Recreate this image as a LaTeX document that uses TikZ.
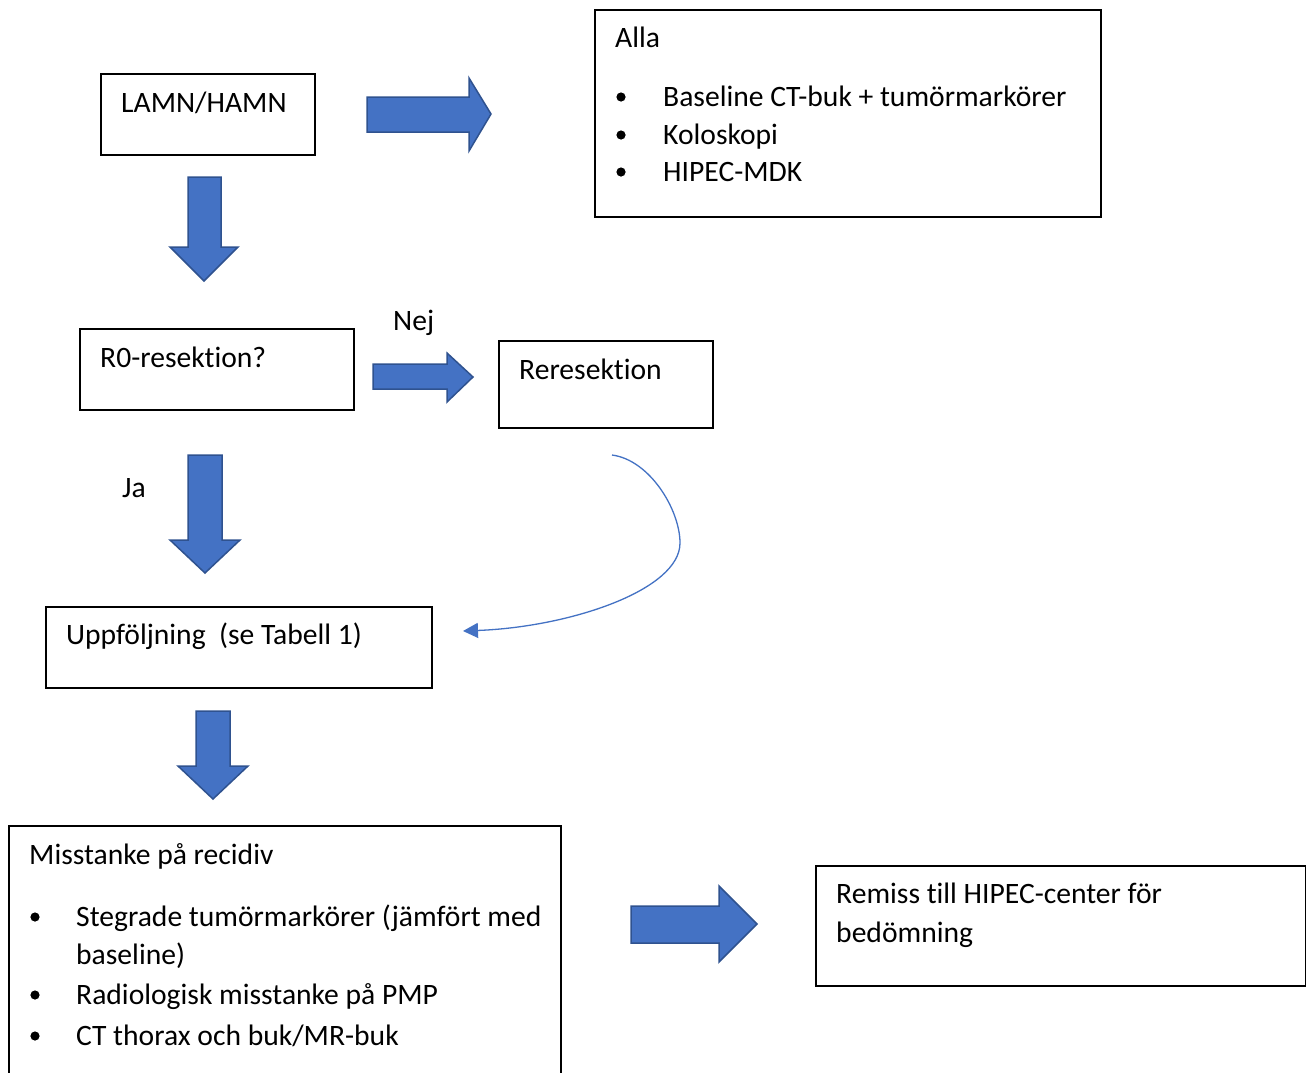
\documentclass[tikz,border=0pt]{standalone}
\usepackage{fontspec}
\setmainfont[Ligatures=NoCommon]{Carlito}
\usetikzlibrary{arrows.meta}
\definecolor{arrowblue}{HTML}{4472C4}
\definecolor{arrowedge}{HTML}{2F528F}
\tikzset{
  boxnode/.style={draw=black, line width=2.2pt, rectangle, inner sep=0pt, anchor=north west},
  txt/.style={anchor=base west, inner sep=0pt, font=\fontsize{29.6}{38}\selectfont},
  blockarrow/.style={fill=arrowblue, draw=arrowedge, line width=1.5pt, line join=miter},
  bulletdot/.style={fill=black, draw=none},
  curvearrow/.style={draw=arrowblue, line width=1.3pt, -{Triangle[length=15pt,width=15pt]}}
}
\begin{document}
\begin{tikzpicture}[x=1pt,y=-1pt]
\clip (0,0) rectangle (1306,1072);
\fill[white] (0,0) rectangle (1306,1072);

% boxes
\node[boxnode, minimum width=214pt, minimum height=81pt] (lamn) at (100,73) {};
\node[boxnode, minimum width=506pt, minimum height=207pt] (alla) at (594,9) {};
\node[boxnode, minimum width=274pt, minimum height=81pt] (rzero) at (79,328) {};
\node[boxnode, minimum width=214pt, minimum height=87pt] (reres) at (498,340) {};
\node[boxnode, minimum width=386pt, minimum height=81pt] (uppf) at (45,606) {};
\node[boxnode, minimum width=552pt, minimum height=280pt] (misst) at (8,825) {};
\node[boxnode, minimum width=490pt, minimum height=120pt] (remiss) at (815,865) {};

% texts
\node[txt] (tlamn) at (121,112) {LAMN/HAMN};
\node[txt] (talla) at (615,47) {Alla};
\node[txt] (ta1) at (663,106) {Baseline CT-buk + tumörmarkörer};
\node[txt] (ta2) at (663,144) {Koloskopi};
\node[txt] (ta3) at (663,181) {HIPEC-MDK};
\node[txt] (trzero) at (100,367) {R0-resektion?};
\node[txt] (tnej) at (393,330) {Nej};
\node[txt] (treres) at (519,379) {Reresektion};
\node[txt] (tja) at (122,497) {Ja};
\node[txt] (tuppf) at (66,644) {Uppföljning\ \ (se Tabell 1)};
\node[txt] (tmisst) at (29,864) {Misstanke på recidiv};
\node[txt] (tm1) at (76,926) {Stegrade tumörmarkörer (jämfört med};
\node[txt] (tm1b) at (76,964) {baseline)};
\node[txt] (tm2) at (76,1004) {Radiologisk misstanke på PMP};
\node[txt] (tm3) at (76,1045) {CT thorax och buk/MR-buk};
\node[txt] (tremiss) at (836,903) {Remiss till HIPEC-center för};
\node[txt] (tremissb) at (836,942) {bedömning};

% bullets
\foreach \y in {97,135,172} {\fill[bulletdot] (621,\y) circle (4.6pt);}
\foreach \y in {917,995,1036} {\fill[bulletdot] (35,\y) circle (4.6pt);}

% block arrows
\draw[blockarrow] (367,97) -- (469,97) -- (469,78) -- (491,114) -- (469,151) -- (469,132) -- (367,132) -- cycle;
\draw[blockarrow] (188,177) -- (221,177) -- (221,247) -- (238,247) -- (204,281) -- (170,247) -- (188,247) -- cycle;
\draw[blockarrow] (373,364) -- (447,364) -- (447,353) -- (473,377) -- (447,402) -- (447,389) -- (373,389) -- cycle;
\draw[blockarrow] (188,455) -- (222,455) -- (222,540) -- (240,540) -- (205,573) -- (170,540) -- (188,540) -- cycle;
\draw[blockarrow] (196,711) -- (230,711) -- (230,766) -- (248,766) -- (213,799) -- (178,766) -- (196,766) -- cycle;
\draw[blockarrow] (631,906) -- (719,906) -- (719,886) -- (757,924) -- (719,962) -- (719,943) -- (631,943) -- cycle;

% curved connector
\coordinate (cstart) at (612,455);
\coordinate (cmid) at (680,543);
\coordinate (cend) at (463,631);
\draw[curvearrow] (cstart) .. controls (650,460) and (680,510) .. (cmid) .. controls (680,590) and (570,627) .. (cend);
\end{tikzpicture}
\end{document}
